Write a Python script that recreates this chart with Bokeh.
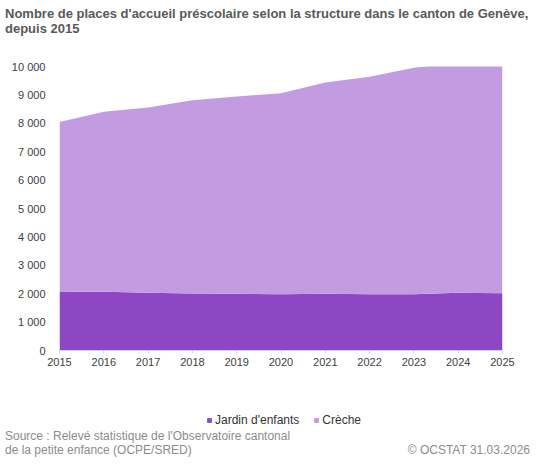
import html
from bokeh.plotting import figure
from bokeh.models import ColumnDataSource, Range1d, FixedTicker, Div, Legend
from bokeh.layouts import column
from bokeh.embed import file_html
from bokeh.resources import INLINE

years = [2015, 2016, 2017, 2018, 2019, 2020, 2021, 2022, 2023, 2024, 2025]
jardin = [2080, 2070, 2030, 2005, 1995, 1980, 1995, 1980, 1980, 2030, 2015]
creche = [5970, 6335, 6525, 6810, 6950, 7080, 7440, 7655, 7975, 8110, 8285]
series_names = ["Jardin d'enfants", "Crèche"]
series_colors = ["#8e47c4", "#c39be0"]
y_ticks = [0, 1000, 2000, 3000, 4000, 5000, 6000, 7000, 8000, 9000, 10000]
y_tick_labels = ["0", "1 000", "2 000", "3 000", "4 000", "5 000", "6 000",
                 "7 000", "8 000", "9 000", "10 000"]

title_lines = ["Nombre de places d'accueil préscolaire selon la structure dans le canton de Genève,",
               "depuis 2015"]
source_lines = ["Source : Relevé statistique de l'Observatoire cantonal",
                "de la petite enfance (OCPE/SRED)"]
credit = "© OCSTAT 31.03.2026"

FONT = "Liberation Sans"
W = 541

source = ColumnDataSource(data=dict(year=years, jardin=jardin, creche=creche))

# main chart
p = figure(width=W, height=334, output_backend="svg", toolbar_location=None,
           x_range=Range1d(2015, 2025), y_range=Range1d(0, 10000),
           min_border_left=59, min_border_right=39, min_border_top=26,
           min_border_bottom=24)

p.varea_stack(["jardin", "creche"], x="year", source=source, color=series_colors)

p.outline_line_color = None
p.grid.visible = False

xa = p.xaxis[0]
xa.ticker = FixedTicker(ticks=years)
xa.axis_line_color = "#ccd6eb"
xa.major_tick_line_color = "#ccd6eb"
xa.major_tick_in = 0
xa.major_tick_out = 3
xa.minor_tick_line_color = None
xa.major_label_standoff = 4
xa.major_label_text_font = FONT
xa.major_label_text_font_size = "11px"
xa.major_label_text_color = "#404040"

ya = p.yaxis[0]
ya.ticker = FixedTicker(ticks=y_ticks)
ya.major_label_overrides = {t: l for t, l in zip(y_ticks, y_tick_labels)}
ya.axis_line_color = None
ya.major_tick_line_color = None
ya.minor_tick_line_color = None
ya.major_label_standoff = 8
ya.major_label_text_font = FONT
ya.major_label_text_font_size = "11px"
ya.major_label_text_color = "#404040"

# legend strip: same series and colours, their areas lie outside this strip's range
lp = figure(width=W, height=54, output_backend="svg", toolbar_location=None,
            x_range=Range1d(0, 1), y_range=Range1d(0, 1),
            x_axis_type=None, y_axis_type=None,
            min_border_left=0, min_border_right=0, min_border_top=0,
            min_border_bottom=0)
lp.outline_line_color = None
lp.grid.visible = False
lrs = lp.varea_stack(["jardin", "creche"], x="year", source=source, color=series_colors)

lg = Legend(items=[(n, [r]) for n, r in zip(series_names, lrs)],
            orientation="horizontal", location=(147, 1),
            padding=0, margin=0, spacing=14, glyph_width=6, glyph_height=6,
            label_standoff=3, label_height=14,
            label_text_font=FONT, label_text_font_size="12px",
            label_text_color="#333333", background_fill_alpha=0,
            border_line_color=None)
lp.add_layout(lg)

title_html = ('<div style="font-family:\'Liberation Sans\';font-size:13px;font-weight:bold;'
              'color:#595959;line-height:15px;padding:6px 0 0 5px;white-space:nowrap">'
              + "<br>".join(html.escape(t) for t in title_lines) + '</div>')
title_div = Div(text=title_html, width=W, height=40, margin=0)

footer_html = ('<div style="display:flex;justify-content:space-between;align-items:flex-end;'
               'font-family:\'Liberation Sans\';font-size:12px;color:#8c8c8c;line-height:14px;'
               'padding:0 3px 0 5px;width:533px;white-space:nowrap">'
               '<div>' + "<br>".join(html.escape(t) for t in source_lines) + '</div>'
               '<div>' + html.escape(credit) + '</div></div>')
footer_div = Div(text=footer_html, width=W, height=30, margin=0)

layout = column(title_div, p, lp, footer_div, spacing=0)

open("out.html", "w").write(file_html(layout, INLINE))
